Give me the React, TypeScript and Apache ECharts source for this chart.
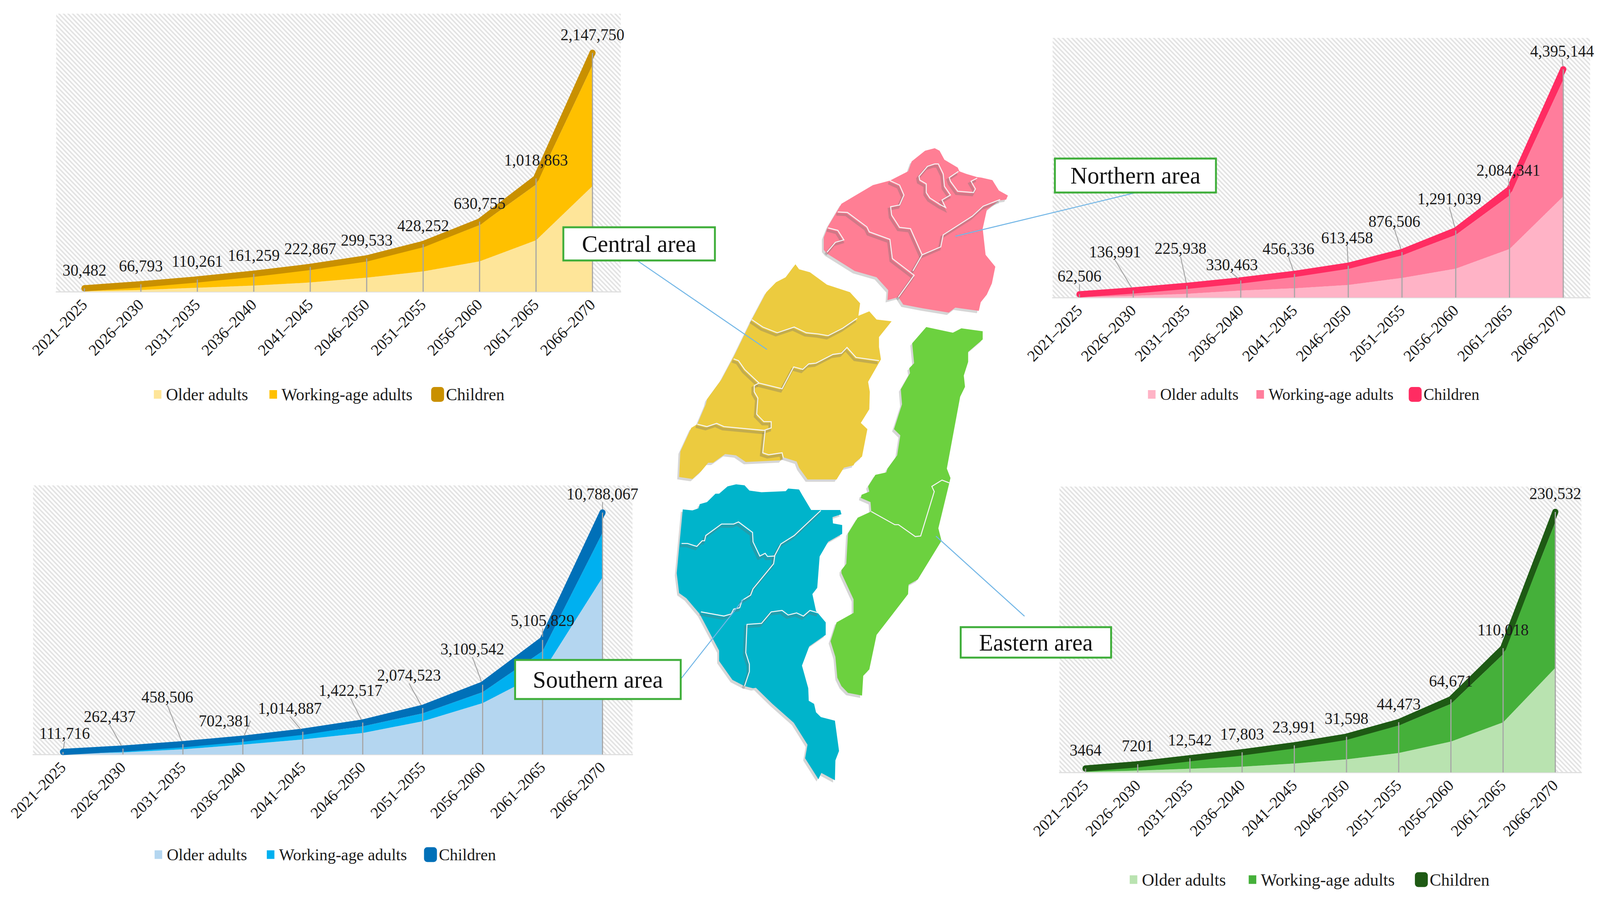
import React, { useEffect, useRef } from "react";
import * as echarts from "echarts";

const W = 4212;
const H = 2338;
const FONT = "Liberation Serif";

const categories = ["2021–2025", "2026–2030", "2031–2035", "2036–2040", "2041–2045", "2046–2050", "2051–2055", "2056–2060", "2061–2065", "2066–2070"];
const seriesNames = ["Older adults", "Working-age adults", "Children"];

const centralOlder = [5000, 16000, 36000, 55000, 83000, 126000, 183000, 273000, 463000, 950000];
const centralWorking = [21482, 43793, 64261, 93259, 123867, 153533, 220252, 325755, 500863, 1087750];
const centralChildren = [4000, 7000, 10000, 13000, 16000, 20000, 25000, 32000, 55000, 110000];
const centralTotals = [30482, 66793, 110261, 161259, 222867, 299533, 428252, 630755, 1018863, 2147750];

const northOlder = [10000, 33000, 72000, 135000, 179000, 242000, 378000, 557000, 935000, 1948000];
const northWorking = [46506, 90991, 133938, 167463, 241336, 321458, 433506, 649039, 1029341, 2247144];
const northChildren = [6000, 13000, 20000, 28000, 36000, 50000, 65000, 85000, 120000, 200000];
const northTotals = [62506, 136991, 225938, 330463, 456336, 613458, 876506, 1291039, 2084341, 4395144];

const southOlder = [35000, 92000, 231000, 439000, 670000, 960000, 1480000, 2290000, 3670000, 7900000];
const southWorking = [51716, 125437, 162506, 173381, 224887, 292517, 354523, 489542, 935829, 1988067];
const southChildren = [25000, 45000, 65000, 90000, 120000, 170000, 240000, 330000, 500000, 900000];
const southTotals = [111716, 262437, 458506, 702381, 1014887, 1422517, 2074523, 3109542, 5105829, 10788067];

const eastOlder = [500, 1600, 3300, 5100, 7900, 11600, 17200, 27300, 44300, 92500];
const eastWorking = [2564, 4901, 8242, 11303, 14191, 17598, 24273, 33371, 60218, 129032];
const eastChildren = [400, 700, 1000, 1400, 1900, 2400, 3000, 4000, 5500, 9000];
const eastTotals = [3464, 7201, 12542, 17803, 23991, 31598, 44473, 64671, 110018, 230532];

const eastLabels = ["3464", "7201", "12,542", "17,803", "23,991", "31,598", "44,473", "64,671", "110,018", "230,532"];

const noShift: number[][] = categories.map(() => [0, 0]);
const northShift = [[0, 0], [-48, -52], [-17, -49], [-23, 7], [-16, -18], [-3, -25], [-20, -32], [-17, -34], [-3, -2], [-3, 0]];
const southShift = [[4, -1], [-35, -35], [-41, -74], [-48, 1], [-34, -13], [-32, -36], [-36, -37], [-27, -45], [0, -3], [0, -1]];

const panels = [
  { older: centralOlder, working: centralWorking, children: centralChildren, totals: centralTotals, labels: null as string[] | null, max: 2500000,
    grid: [148, 35, 1486, 712], colors: ["#FEE599", "#FFC000", "#C99000"], shift: noShift, leader: false,
    legend: { left: 398, top: 988, gap: 49, size: 44 } },
  { older: northOlder, working: northWorking, children: northChildren, totals: northTotals, labels: null, max: 5000000,
    grid: [2771, 97, 1415, 665], colors: ["#FFB3C6", "#FF7D9C", "#FF2C62"], shift: northShift, leader: true,
    legend: { left: 3015, top: 989, gap: 40, size: 42 } },
  { older: southOlder, working: southWorking, children: southChildren, totals: southTotals, labels: null, max: 12000000,
    grid: [87, 1243, 1578, 689], colors: ["#B4D6F0", "#00B0F0", "#0070B8"], shift: southShift, leader: true,
    legend: { left: 400, top: 2167, gap: 45, size: 43 } },
  { older: eastOlder, working: eastWorking, children: eastChildren, totals: eastTotals, labels: eastLabels, max: 253000,
    grid: [2789, 1246, 1374, 732], colors: ["#B9E3B0", "#45B03A", "#1E5A14"], shift: noShift, leader: false,
    legend: { left: 2967, top: 2230, gap: 53, size: 45 } },
];

const calloutBoxes = [
  { text: "Central area", x: 1483, y: 582, w: 399, h: 85, size: 62 },
  { text: "Northern area", x: 2777, y: 406, w: 424, h: 87, size: 62 },
  { text: "Southern area", x: 1356, y: 1690, w: 436, h: 100, size: 62 },
  { text: "Eastern area", x: 2529, y: 1606, w: 396, h: 78, size: 61 },
];
const calloutLines = [
  [1680, 669, 2019, 895],
  [2991, 493, 2515, 605],
  [2464, 1373, 2697, 1578],
  [1792, 1739, 1957, 1535],
];

type Pts = number[][];
const fromCrop2 = (p: Pts): Pts => p.map(([x, y]) => [1740 + x / 1.568, 340 + y / 1.568]);
const fromCrop3 = (p: Pts): Pts => p.map(([x, y]) => [1740 + x / 1.568, 1200 + y / 1.867]);

const pinkOutline = fromCrop2([[1130, 62], [1150, 72], [1170, 108], [1225, 140], [1232, 155], [1260, 165], [1305, 178], [1322, 180], [1368, 190], [1395, 232], [1432, 252], [1425, 268], [1395, 272], [1345, 310], [1328, 385], [1340, 490], [1380, 538], [1366, 605], [1345, 650], [1320, 680], [1312, 715], [1215, 702], [1188, 722], [1080, 705], [1000, 690], [980, 660], [935, 672], [938, 632], [890, 580], [800, 555], [685, 485], [672, 470], [672, 420], [690, 375], [745, 285], [785, 262], [875, 210], [945, 192], [1020, 155], [1035, 115], [1090, 72]]);
const pinkLines = [
  [[730, 318], [770, 320], [850, 378], [860, 398], [945, 428], [955, 505], [1045, 572], [980, 660]],
  [[1040, 555], [1078, 490], [1155, 458], [1165, 410], [1285, 335], [1330, 295], [1400, 268]],
  [[945, 192], [985, 210], [1003, 250], [985, 290], [948, 297], [952, 330], [985, 380], [1030, 385], [1078, 490]],
  [[1130, 125], [1100, 135], [1065, 175], [1068, 190], [1095, 205], [1095, 240], [1110, 262], [1155, 290], [1175, 300], [1160, 270], [1195, 250], [1170, 215], [1165, 165], [1145, 125], [1130, 125]],
  [[1228, 155], [1190, 180], [1195, 195], [1225, 235], [1290, 240], [1298, 225], [1280, 195], [1305, 182]],
  [[690, 382], [730, 392], [755, 430], [720, 440], [685, 480]],
].map(fromCrop2);

const yellowOutline = fromCrop2([[555, 528], [570, 548], [615, 560], [685, 610], [780, 640], [822, 685], [815, 735], [860, 717], [890, 750], [952, 757], [900, 820], [900, 860], [908, 910], [855, 1000], [862, 1040], [860, 1110], [825, 1165], [852, 1190], [830, 1300], [800, 1325], [795, 1335], [755, 1345], [725, 1392], [605, 1392], [570, 1345], [560, 1320], [505, 1303], [495, 1315], [350, 1322], [310, 1295], [265, 1290], [215, 1325], [195, 1325], [165, 1360], [130, 1390], [75, 1382], [80, 1280], [125, 1185], [150, 1170], [185, 1090], [190, 1070], [250, 990], [305, 890], [375, 750], [435, 640], [475, 600], [515, 580]]);
const yellowLines = [
  [[375, 750], [420, 780], [480, 803], [550, 780], [600, 803], [650, 808], [690, 815], [750, 785], [810, 745]],
  [[300, 908], [320, 915], [345, 950], [405, 1005], [500, 1028], [548, 940], [585, 950], [610, 928], [640, 925], [710, 890], [745, 885], [768, 862], [805, 902], [900, 915]],
  [[405, 1005], [385, 1015], [385, 1040], [400, 1065], [395, 1130], [425, 1160], [455, 1160], [455, 1185], [425, 1195], [260, 1180], [230, 1167], [190, 1180], [150, 1170]],
  [[430, 1195], [420, 1285], [445, 1293], [500, 1285], [505, 1305]],
].map(fromCrop2);

const greenOutline = [
  ...fromCrop2([[1095, 780], [1205, 803], [1240, 785], [1328, 797], [1328, 830], [1268, 880], [1268, 920], [1250, 975], [1255, 1020], [1235, 1060]]),
  ...fromCrop3([[1180, 0], [1195, 45], [1190, 70], [1145, 285], [1158, 345], [1060, 530], [1022, 555], [1020, 600], [890, 795], [860, 960], [835, 990], [830, 1085], [772, 1072], [745, 1040], [728, 1000], [720, 900], [700, 825], [725, 735], [795, 690], [795, 625], [745, 500], [745, 485], [765, 455], [772, 310], [812, 235], [868, 205], [865, 160], [825, 140], [828, 125], [860, 110], [855, 85], [885, 30], [930, 18], [935, 0]]),
  ...fromCrop2([[975, 1295], [988, 1215], [962, 1190], [995, 1090], [990, 1030], [1028, 965], [1025, 945], [1045, 925], [1037, 845]]),
];
const greenLines = [
  [[868, 205], [965, 268], [980, 268], [1050, 325], [1072, 322], [1128, 110], [1118, 85], [1160, 55], [1190, 68]],
].map(fromCrop3);

const tealOutline = fromCrop3([[310, 75], [345, 80], [365, 105], [415, 113], [515, 108], [525, 95], [570, 100], [585, 130], [620, 198], [740, 198], [745, 218], [708, 232], [710, 262], [748, 270], [748, 312], [690, 350], [655, 420], [645, 570], [625, 600], [640, 680], [680, 735], [680, 795], [612, 850], [582, 942], [608, 1050], [610, 1110], [632, 1125], [640, 1165], [660, 1188], [718, 1205], [735, 1350], [720, 1395], [718, 1490], [662, 1455], [650, 1485], [595, 1385], [605, 1320], [548, 1215], [460, 1125], [392, 1048], [380, 1050], [345, 1040], [295, 1010], [240, 920], [240, 870], [160, 695], [105, 620], [75, 595], [65, 500], [90, 195], [130, 200], [155, 190], [160, 170], [190, 160], [225, 120], [240, 120], [275, 85]]);
const tealLines = [
  [[660, 200], [550, 320], [495, 360], [470, 415], [465, 455], [380, 575], [370, 605], [335, 630], [325, 665], [300, 672], [290, 695], [260, 705], [165, 685]],
  [[85, 358], [110, 358], [148, 372], [170, 345], [180, 345], [185, 320], [250, 265], [300, 265], [320, 255], [378, 305], [380, 350], [408, 418], [430, 405], [440, 420], [470, 418]],
  [[345, 1040], [365, 970], [365, 935], [350, 880], [355, 745], [415, 740], [455, 685], [500, 678], [525, 700], [560, 690], [588, 705], [615, 678], [650, 690]],
].map(fromCrop3);

const regions = [
  { outline: pinkOutline, lines: pinkLines, fill: "#FF7E94", relief: true },
  { outline: yellowOutline, lines: yellowLines, fill: "#ECCB3F", relief: true },
  { outline: greenOutline, lines: greenLines, fill: "#6CD13F", relief: false },
  { outline: tealOutline, lines: tealLines, fill: "#00B4CB", relief: true },
];

function hatchTile() {
  const p = 12;
  const c = document.createElement("canvas");
  c.width = p;
  c.height = p;
  const g = c.getContext("2d")!;
  g.fillStyle = "#ffffff";
  g.fillRect(0, 0, p, p);
  g.strokeStyle = "#e3e3e3";
  g.lineWidth = 4;
  for (const o of [-p, 0, p]) {
    g.beginPath();
    g.moveTo(o - 1, -1);
    g.lineTo(o + p + 1, p + 1);
    g.stroke();
  }
  return { image: c, repeat: "repeat", imageWidth: p, imageHeight: p };
}

const smallSwatch = "path://M0 0h.01v.01h-.01z M34 38h.01v.01h-.01z M7 8H27V30H7Z";

function buildOption() {
  const hatch = hatchTile();
  const graphics: any[] = [];
  panels.forEach((p) => {
    const [x, y, w, h] = p.grid;
    graphics.push({ type: "rect", silent: true, z: -1, shape: { x, y, width: w, height: h }, style: { fill: hatch } });
  });
  regions.forEach((r) => {
    graphics.push({ type: "polygon", silent: true, z: 1, shape: { points: r.outline.map(([x, y]) => [x - 5, y + 6]) }, style: { fill: "#d6d6d6" } });
    graphics.push({ type: "polygon", silent: true, z: 2, shape: { points: r.outline }, style: { fill: r.fill } });
    r.lines.forEach((l) => {
      if (r.relief) {
        graphics.push({ type: "polyline", silent: true, z: 3, shape: { points: l.map(([x, y]) => [x - 4, y + 6]) }, style: { stroke: "rgba(110,110,110,0.32)", lineWidth: 7, fill: "none" } });
      }
      graphics.push({ type: "polyline", silent: true, z: 4, shape: { points: l }, style: { stroke: "#f4f4f4", lineWidth: 2.6, fill: "none" } });
    });
  });
  calloutLines.forEach(([x1, y1, x2, y2]) => {
    graphics.push({ type: "line", silent: true, z: 5, shape: { x1, y1, x2, y2 }, style: { stroke: "#72B6E6", lineWidth: 2.6 } });
  });
  calloutBoxes.forEach((b) => {
    graphics.push({ type: "rect", silent: true, z: 20, shape: { x: b.x, y: b.y, width: b.w, height: b.h }, style: { fill: "#ffffff", stroke: "#3FAE3A", lineWidth: 5 } });
    graphics.push({ type: "text", silent: true, z: 21, x: b.x + b.w / 2, y: b.y + b.h / 2, style: { text: b.text, fontFamily: FONT, fontSize: b.size, fill: "#111111", align: "center", verticalAlign: "middle" } });
  });

  const grid = panels.map((p) => ({ left: p.grid[0], top: p.grid[1], width: p.grid[2], height: p.grid[3], containLabel: false }));
  const xAxis = panels.map((_, i) => ({
    type: "category", gridIndex: i, data: categories,
    axisTick: { show: false },
    axisLine: { lineStyle: { color: "#e0e0e0", width: 3 } },
    axisLabel: { rotate: 45, interval: 0, margin: 26, fontFamily: FONT, fontSize: 41, color: "#1c1c1c" },
  }));
  const yAxis = panels.map((p, i) => ({ type: "value", gridIndex: i, min: 0, max: p.max, show: false, splitLine: { show: false } }));

  const series: any[] = [];
  panels.forEach((p, i) => {
    const [oc, wc, cc] = p.colors;
    const stack = "stack" + i;
    const base = { type: "line", xAxisIndex: i, yAxisIndex: i, stack, silent: true, smooth: false };
    series.push({ ...base, name: seriesNames[0], data: p.older, z: 2, showSymbol: false, lineStyle: { width: 0, color: oc }, itemStyle: { color: oc }, areaStyle: { color: oc, opacity: 1 } });
    series.push({ ...base, name: seriesNames[1], data: p.working, z: 2, showSymbol: false, lineStyle: { width: 0, color: wc }, itemStyle: { color: wc }, areaStyle: { color: wc, opacity: 1 } });
    series.push({
      ...base, name: seriesNames[2], data: p.children, z: 3,
      showSymbol: true, showAllSymbol: true, symbol: "circle", symbolSize: 16,
      lineStyle: { width: 16, color: cc, cap: "round", join: "round" },
      itemStyle: { color: cc },
      areaStyle: { color: cc, opacity: 1 },
      label: {
        show: true, position: "top", distance: 18, fontFamily: FONT, fontSize: 42, color: "#1c1c1c",
        formatter: (q: any) => (p.labels ? p.labels[q.dataIndex] : p.totals[q.dataIndex].toLocaleString("en-US")),
      },
      labelLine: p.leader ? { show: true, lineStyle: { color: "#a6a6a6", width: 2.5 } } : { show: false },
      labelLayout: (q: any) => ({ dx: p.shift[q.dataIndex][0], dy: p.shift[q.dataIndex][1] }),
    });
    series.push({ type: "bar", name: "drop lines", xAxisIndex: i, yAxisIndex: i, silent: true, data: p.totals, barWidth: 3, z: 4, itemStyle: { color: "#a6a6a6" } });
  });

  const legend = panels.map((p) => ({
    left: p.legend.left, top: p.legend.top, orient: "horizontal", padding: 0,
    itemWidth: 34, itemHeight: 38, itemGap: p.legend.gap, selectedMode: false,
    textStyle: { fontFamily: FONT, fontSize: p.legend.size, color: "#1c1c1c" },
    data: [
      { name: seriesNames[0], icon: smallSwatch, itemStyle: { color: p.colors[0] } },
      { name: seriesNames[1], icon: smallSwatch, itemStyle: { color: p.colors[1] } },
      { name: seriesNames[2], icon: "roundRect", itemStyle: { color: p.colors[2] } },
    ],
  }));

  return { animation: false, backgroundColor: "#ffffff", textStyle: { fontFamily: FONT }, tooltip: { show: false }, grid, xAxis, yAxis, series, legend, graphic: { elements: graphics } };
}

export default function App() {
  const ref = useRef<HTMLDivElement>(null);
  useEffect(() => {
    const chart = echarts.init(ref.current!, undefined, { renderer: "svg", width: W, height: H });
    chart.setOption(buildOption() as any);
    return () => chart.dispose();
  }, []);
  // The browser's viewport is narrower than the reference: fit the whole drawing to it.
  const fit = typeof window !== "undefined" ? Math.min(1, window.innerWidth / W) : 1;
  return (
    <div style={{ position: "absolute", left: 0, top: 0, width: W * fit, height: H, overflow: "hidden", background: "#fff" }}>
      <div ref={ref} style={{ width: W, height: H, transformOrigin: "0 0", transform: `scaleX(${fit})` }} />
    </div>
  );
}
